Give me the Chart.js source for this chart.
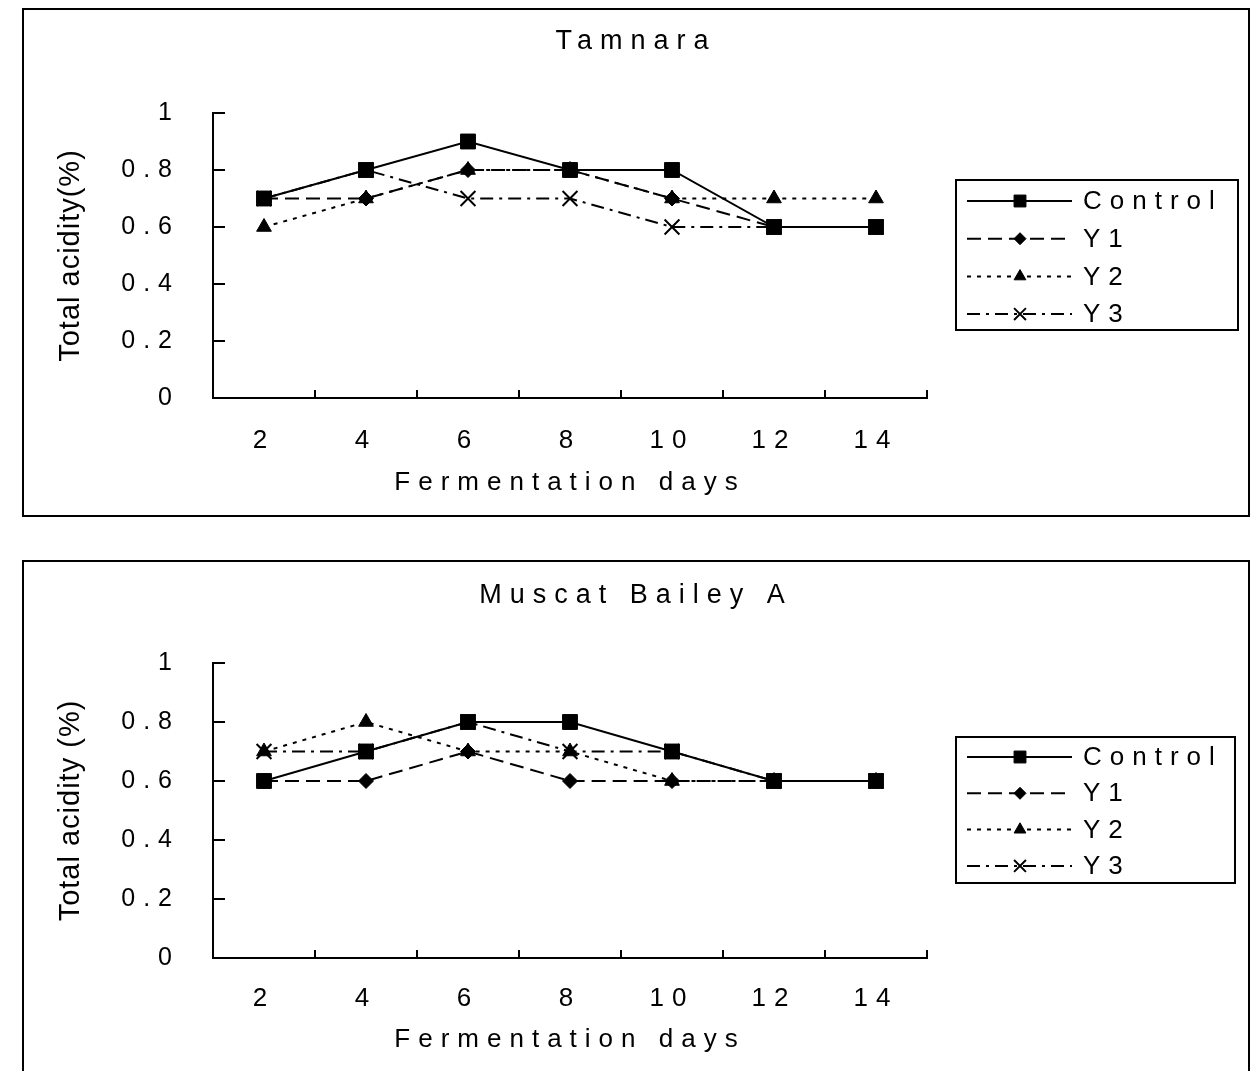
<!DOCTYPE html>
<html><head><meta charset="utf-8">
<script src="https://cdn.jsdelivr.net/npm/chart.js@4.4.0/dist/chart.umd.min.js"></script>
<style>
html,body{margin:0;padding:0;background:#fff;}
body{width:1258px;height:1071px;position:relative;overflow:hidden;}
.panel{position:absolute;left:22px;width:1224px;border:2px solid #000;background:#fff;}
#p1{top:8px;height:505px;}
#p2{top:560px;height:511px;}
canvas{display:block;}
</style></head><body>
<div class="panel" id="p1"><canvas id="c1" width="1224" height="505" style="width:1224px;height:505px"></canvas></div>
<div class="panel" id="p2"><canvas id="c2" width="1224" height="511" style="width:1224px;height:511px"></canvas></div>
<script>
// ---- data ----
const days = ['2', '4', '6', '8', '10', '12', '14'];
const seriesNames = ['Control', 'Y1', 'Y2', 'Y3'];
const yTickLabels = ['0', '0.2', '0.4', '0.6', '0.8', '1'];

const tamnaraControl = [0.7, 0.8, 0.9, 0.8, 0.8, 0.6, 0.6];
const tamnaraY1      = [0.7, 0.7, 0.8, 0.8, 0.7, 0.6, 0.6];
const tamnaraY2      = [0.6, 0.7, 0.8, 0.8, 0.7, 0.7, 0.7];
const tamnaraY3      = [0.7, 0.8, 0.7, 0.7, 0.6, 0.6, 0.6];

const muscatControl = [0.6, 0.7, 0.8, 0.8, 0.7, 0.6, 0.6];
const muscatY1      = [0.6, 0.6, 0.7, 0.6, 0.6, 0.6, 0.6];
const muscatY2      = [0.7, 0.8, 0.7, 0.7, 0.6, 0.6, 0.6];
const muscatY3      = [0.7, 0.7, 0.8, 0.7, 0.7, 0.6, 0.6];

// ---- styles ----
const FONT = '"Liberation Sans", Arial, Helvetica, sans-serif';
Chart.defaults.font.family = FONT;
Chart.defaults.color = '#000';

const seriesStyles = [
  { borderDash: [], pointStyle: 'rect', pointRadius: 10.5, pointBorderWidth: 1 },
  { borderDash: [14, 7], pointStyle: 'rectRot', pointRadius: 7.5, pointBorderWidth: 1 },
  { borderDash: [4, 6], pointStyle: 'triangle', pointRadius: 8.5, pointBorderWidth: 1 },
  { borderDash: [13, 6, 3, 6], pointStyle: 'crossRot', pointRadius: 10.5, pointBorderWidth: 2 }
];

const spacingPlugin = {
  id: 'spacing',
  beforeInit(c) {
    // reserve room on the right for the legend, without narrowing the title
    Chart.layouts.addBox(c, {
      position: 'right', fullSize: false, weight: 0, options: {},
      left: 0, top: 0, right: 0, bottom: 0, width: 321, height: 0,
      isHorizontal() { return false; },
      update(maxWidth, maxHeight) { this.width = 321; this.height = maxHeight; },
      draw() {}
    });
  },
  beforeUpdate(c) { c.ctx.letterSpacing = '8px'; },
  beforeDraw(c) { c.ctx.letterSpacing = '8px'; },
  afterLayout(c) {
    const y = c.scales.y;
    if (y && !y._patchedTitle) {
      const orig = y.drawTitle;
      y.drawTitle = function () {
        const ctx = this.ctx;
        const prev = ctx.letterSpacing;
        ctx.letterSpacing = '1px';
        orig.call(this);
        ctx.letterSpacing = prev;
      };
      y._patchedTitle = true;
    }
  }
};

function drawMarker(ctx, style, radius, bw, x, y) {
  if (Chart.helpers && Chart.helpers.drawPoint) {
    ctx.lineWidth = bw;
    Chart.helpers.drawPoint(ctx, { pointStyle: style, radius: radius, borderWidth: bw, rotation: 0 }, x, y);
  }
}

const lineLegend = {
  id: 'lineLegend',
  afterDraw(chart, args, o) {
    const ctx = chart.ctx;
    ctx.save();
    ctx.setLineDash([]);
    ctx.lineWidth = 2;
    ctx.strokeStyle = '#000';
    ctx.fillStyle = '#fff';
    ctx.fillRect(o.left, o.top, o.width, o.height);
    ctx.strokeRect(o.left, o.top, o.width, o.height);
    chart.data.datasets.forEach((ds, i) => {
      const y = o.firstRow + i * o.rowGap;
      ctx.strokeStyle = '#000';
      ctx.fillStyle = '#000';
      ctx.lineWidth = 2;
      ctx.setLineDash(ds.borderDash || []);
      ctx.beginPath();
      ctx.moveTo(o.lineStart, y);
      ctx.lineTo(o.lineEnd, y);
      ctx.stroke();
      ctx.setLineDash([]);
      drawMarker(ctx, ds.pointStyle, ds.pointRadius * 0.8, ds.pointBorderWidth, o.markerX, y);
      ctx.fillStyle = '#000';
      ctx.font = '26px ' + FONT;
      ctx.letterSpacing = '8px';
      ctx.textAlign = 'left';
      ctx.textBaseline = 'middle';
      ctx.fillText(ds.label, o.textX, y + 1);
    });
    ctx.restore();
  }
};

function makeChart(id, titleText, yTitle, values, lay) {
  const datasets = values.map((v, i) => Object.assign({
    label: seriesNames[i],
    data: v,
    borderColor: '#000',
    backgroundColor: '#000',
    pointBackgroundColor: '#000',
    pointBorderColor: '#000',
    borderWidth: 2,
    tension: 0,
    fill: false
  }, seriesStyles[i]));

  return new Chart(document.getElementById(id), {
    type: 'line',
    data: { labels: days, datasets: datasets },
    plugins: [spacingPlugin, lineLegend],
    options: {
      responsive: false,
      animation: false,
      devicePixelRatio: 1,
      layout: { padding: 0 },
      plugins: {
        legend: { display: false },
        tooltip: { enabled: false },
        title: {
          display: true,
          text: titleText,
          color: '#000',
          font: { size: 27, weight: 'normal', family: FONT },
          padding: { top: lay.titleTop, bottom: lay.titleBottom }
        },
        lineLegend: lay.legend
      },
      scales: {
        x: {
          type: 'category',
          offset: true,
          afterFit(s) { s.height = lay.xHeight; },
          grid: { display: true, drawOnChartArea: false, drawTicks: true, tickLength: -8, color: '#000', lineWidth: 2, offset: true },
          border: { display: true, color: '#000', width: 2 },
          ticks: { color: '#000', font: { size: 26, family: FONT }, padding: lay.xTickPad, maxRotation: 0, autoSkip: false },
          title: { display: true, text: 'Fermentation days', color: '#000', font: { size: 26, family: FONT }, padding: { top: 0, bottom: lay.xTitleBottom } }
        },
        y: {
          min: 0, max: 1,
          afterFit(s) { s.width = 189; },
          grid: { display: true, drawOnChartArea: false, drawTicks: true, tickLength: -12, color: '#000', lineWidth: 2 },
          border: { display: true, color: '#000', width: 2 },
          ticks: {
            stepSize: 0.2, color: '#000', font: { size: 25, family: FONT }, padding: 45,
            callback: (v, idx) => yTickLabels[idx]
          },
          title: { display: true, text: yTitle, color: '#000', font: { size: 29, family: FONT }, padding: { top: 29.6, bottom: 0 } }
        }
      }
    }
  });
}

makeChart('c1', 'Tamnara', 'Total acidity(%)',
  [tamnaraControl, tamnaraY1, tamnaraY2, tamnaraY3],
  { titleTop: 15.8, titleBottom: 54.8, xHeight: 117, xTickPad: 35.4, xTitleBottom: 16.4,
    legend: { left: 932, top: 170, width: 282, height: 150, firstRow: 191, rowGap: 37.7, lineStart: 943, lineEnd: 1048, markerX: 996, textX: 1059 } });

makeChart('c2', 'Muscat Bailey A', 'Total acidity (%)',
  [muscatControl, muscatY1, muscatY2, muscatY3],
  { titleTop: 17.8, titleBottom: 50.8, xHeight: 115, xTickPad: 33.4, xTitleBottom: 17.4,
    legend: { left: 932, top: 175, width: 279, height: 146, firstRow: 195, rowGap: 36.3, lineStart: 943, lineEnd: 1048, markerX: 996, textX: 1059 } });
</script></body></html>
